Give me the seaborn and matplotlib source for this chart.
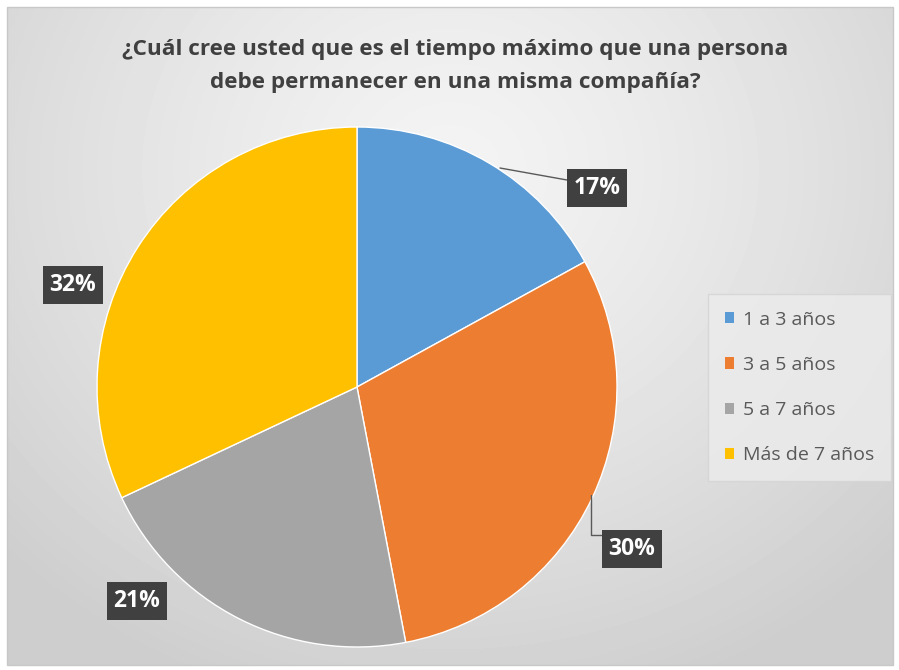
import numpy as np
import matplotlib
matplotlib.use("Agg")
import matplotlib.pyplot as plt
from matplotlib.patches import Rectangle
from matplotlib.lines import Line2D
import seaborn as sns

# Survey answers
categories = ["1 a 3 años", "3 a 5 años", "5 a 7 años", "Más de 7 años"]
shares = [17, 30, 21, 32]
labels = [f"{v}%" for v in shares]
colors = ["#5B9BD5", "#ED7D31", "#A5A5A5", "#FFC000"]
title = "¿Cuál cree usted que es el tiempo máximo que una persona\ndebe permanecer en una misma compañía?"

sns.set_theme(style="white")
plt.rcParams["font.family"] = ["Open Sans", "DejaVu Sans"]

W, H = 899, 670
fig = plt.figure(figsize=(W / 100, H / 100), dpi=100)
fig.patch.set_facecolor("white")

# Chart area with soft radial gradient
bg = fig.add_axes([0, 0, 1, 1])
bg.set_xlim(0, W)
bg.set_ylim(H, 0)
bg.axis("off")
yy, xx = np.mgrid[7:665, 7:893]
d = np.hypot((xx - 450) / 1.0, (yy - 170) / 0.9)
shade = 0.955 - 0.15 * np.clip(d / 620, 0, 1) ** 1.3
bg.imshow(shade, cmap="gray", vmin=0, vmax=1, extent=(7, 893, 665, 7),
          interpolation="bilinear", aspect="auto")
bg.add_patch(Rectangle((7, 7), 886, 658, fill=False, edgecolor="#c8c8c8", lw=1))

bg.text(455, 66, title, ha="center", va="center", fontsize=16.2,
        fontweight="bold", color="#404040", linespacing=1.75)

# Pie
cx, cy, r = 357, 387, 260
ax = fig.add_axes([(cx - r) / W, (H - cy - r) / H, 2 * r / W, 2 * r / H])
wedges, _ = ax.pie(shares, colors=colors, startangle=90, counterclock=False,
                   radius=1, wedgeprops=dict(edgecolor="white", linewidth=1))
ax.set_xlim(-1, 1)
ax.set_ylim(-1, 1)
ax.axis("off")


def px(p, q):
    return ((p - cx) / r, (cy - q) / r)


# Leader lines
ax.add_line(Line2D(*zip(px(500, 168), px(567, 180)), color="#595959", lw=1,
                   clip_on=False))
ax.add_line(Line2D(*zip(px(591, 495), px(591, 535), px(606, 535)),
                   color="#595959", lw=1, clip_on=False))

label_pos = [px(597, 188), px(632, 549), px(137, 601), px(73, 285)]
for txt, (lx, ly) in zip(labels, label_pos):
    ax.text(lx, ly, txt, ha="center", va="center", fontsize=16.5,
            fontweight="bold", color="white", clip_on=False,
            bbox=dict(boxstyle="square,pad=0.3", facecolor="#404040",
                      edgecolor="none"))

# Legend
handles = [Rectangle((0, 0), 1, 1, facecolor=c, edgecolor="none") for c in colors]
leg = fig.legend(handles, categories, loc="upper left",
                 bbox_to_anchor=(714 / W, 1 - 300 / H), frameon=True,
                 fontsize=14, labelcolor="#595959", handlelength=0.5,
                 handleheight=0.5, handletextpad=0.45, labelspacing=1.4,
                 borderpad=0.55, borderaxespad=0)
leg.get_frame().set_facecolor("#ececec")
leg.get_frame().set_edgecolor("#d4d4d4")
leg.get_frame().set_boxstyle("square")

fig.savefig("out.png", dpi=100, facecolor="white")
